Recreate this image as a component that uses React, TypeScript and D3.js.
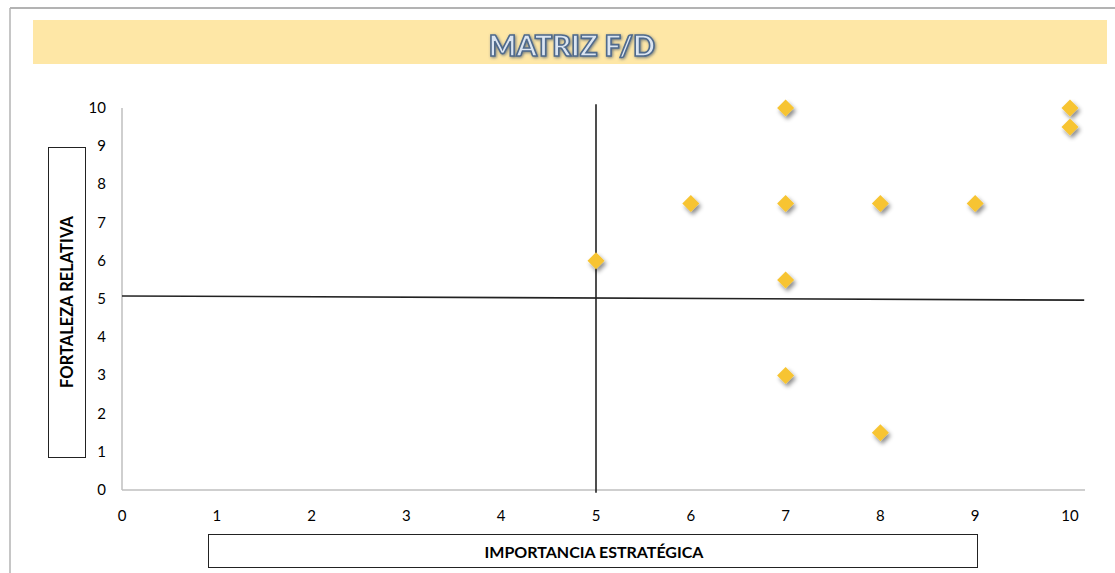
import React, { useEffect } from "react";
import * as d3 from "d3";

// scatter points (importancia, fortaleza)
const importancia = [7, 10, 10, 6, 7, 8, 9, 5, 7, 7, 8];
const fortaleza = [10, 10, 9.5, 7.5, 7.5, 7.5, 7.5, 6, 5.5, 3, 1.5];

// quadrant divider lines
const hLineX = [0, 10.15];
const hLineY = [5.08, 4.97];
const vLineX = [5, 5];
const vLineY = [10.1, -0.07];

const xTicks = [0, 1, 2, 3, 4, 5, 6, 7, 8, 9, 10];
const yTicks = [0, 1, 2, 3, 4, 5, 6, 7, 8, 9, 10];

const TITLE = "MATRIZ F/D";
const X_TITLE = "IMPORTANCIA ESTRATÉGICA";
const Y_TITLE = "FORTALEZA RELATIVA";

const W = 1115;
const H = 573;
const font = "Lato, 'Open Sans', sans-serif";

const App = () => {
  useEffect(() => {
    document.body.style.margin = "0";
  }, []);

  const x = d3.scaleLinear().domain([0, 10]).range([122, 1070]);
  const y = d3.scaleLinear().domain([0, 10]).range([490, 108]);

  const points = importancia.map((v, i) => ({ x: v, y: fortaleza[i] }));
  const line = d3.line<[number, number]>().x(d => x(d[0])).y(d => y(d[1]));
  const hLine = hLineX.map((v, i) => [v, hLineY[i]] as [number, number]);
  const vLine = vLineX.map((v, i) => [v, vLineY[i]] as [number, number]);
  const r = 8.5;
  const diamond = `M0,${-r}L${r},0L0,${r}L${-r},0Z`;

  return (
    <svg width={W} height={H} style={{ display: "block", background: "#fff" }}>
      <defs>
        <filter id="shadow" x="-50%" y="-50%" width="200%" height="200%">
          <feDropShadow dx="2" dy="3" stdDeviation="2" floodColor="#000" floodOpacity="0.45" />
        </filter>
        <filter id="titleGlow" x="-10%" y="-30%" width="120%" height="160%">
          <feDropShadow dx="1" dy="1" stdDeviation="1.5" floodColor="#3b5270" floodOpacity="0.7" />
        </filter>
      </defs>

      {/* outer frame */}
      <line x1={10} x2={W} y1={8} y2={8} stroke="#b3b3b3" strokeWidth={2} />
      <line x1={10} x2={10} y1={8} y2={H} stroke="#b3b3b3" strokeWidth={1.5} />

      {/* title band */}
      <rect x={33} y={20} width={1074} height={44} fill="#fee7a6" />
      <text
        x={572}
        y={56}
        textAnchor="middle"
        fontFamily={font}
        fontWeight={900}
        fontSize={29}
        fill="#dbe5f1"
        stroke="#4f6a8c"
        strokeWidth={1.6}
        filter="url(#titleGlow)"
      >
        {TITLE}
      </text>

      {/* axes */}
      <line x1={x(0)} x2={x(0)} y1={y(10)} y2={y(0)} stroke="#bfbfbf" strokeWidth={1.5} />
      <line x1={x(0)} x2={1085} y1={y(0)} y2={y(0)} stroke="#bfbfbf" strokeWidth={1.5} />

      {yTicks.map(t => (
        <text key={"y" + t} x={106} y={y(t) + 5} textAnchor="end" fontFamily={font} fontSize={15} fill="#000">
          {t}
        </text>
      ))}
      {xTicks.map(t => (
        <text key={"x" + t} x={x(t)} y={521} textAnchor="middle" fontFamily={font} fontSize={15} fill="#000">
          {t}
        </text>
      ))}

      {/* quadrant lines */}
      <path d={line(hLine) ?? ""} fill="none" stroke="#222" strokeWidth={1.6} />
      <path d={line(vLine) ?? ""} fill="none" stroke="#222" strokeWidth={1.6} />

      {/* points */}
      {points.map((p, i) => (
        <path
          key={i}
          d={diamond}
          transform={`translate(${x(p.x)},${y(p.y)})`}
          fill="#f7c431"
          filter="url(#shadow)"
        />
      ))}

      {/* axis title boxes */}
      <rect x={48.5} y={147.5} width={37} height={310} fill="#fff" stroke="#222" strokeWidth={1} />
      <text
        transform={`translate(73,302) rotate(-90)`}
        textAnchor="middle"
        fontFamily={font}
        fontWeight={700}
        fontSize={16.5}
        fill="#000"
      >
        {Y_TITLE}
      </text>

      <rect x={208.5} y={534.5} width={769} height={33} fill="#fff" stroke="#222" strokeWidth={1} />
      <text x={594} y={558} textAnchor="middle" fontFamily={font} fontWeight={700} fontSize={16} fill="#000">
        {X_TITLE}
      </text>
    </svg>
  );
};

export default App;
